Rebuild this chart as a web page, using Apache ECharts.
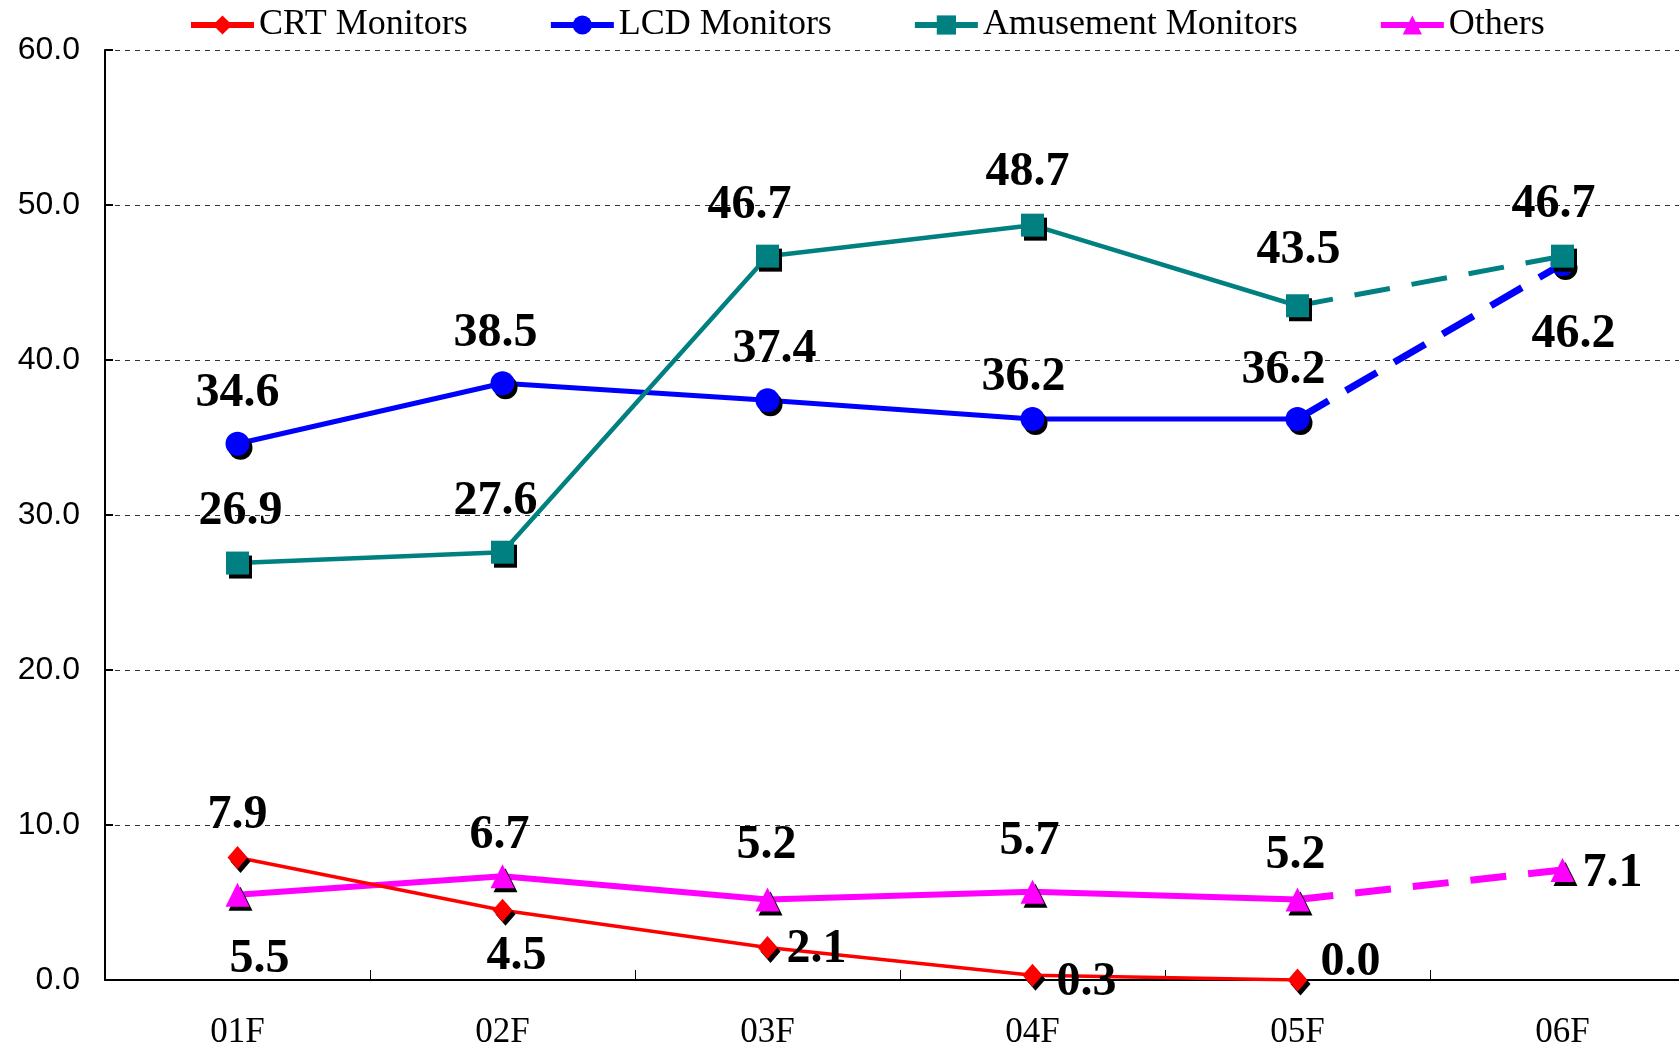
<!DOCTYPE html>
<html>
<head>
<meta charset="utf-8">
<title>Monitor shares by fiscal year</title>
<script src="https://cdn.jsdelivr.net/npm/echarts@6/dist/echarts.min.js"></script>
<style>
  html, body { margin: 0; padding: 0; background: #fff; }
  #chart { width: 1679px; height: 1044px; }
</style>
</head>
<body>
<div id="chart"></div>
<script>
// Fiscal years on the category axis
const categories = ['01F', '02F', '03F', '04F', '05F', '06F'];

// Series values (06F is a forecast, drawn with a dashed segment)
const crtValues = [7.9, 4.5, 2.1, 0.3, 0.0, null];
const lcdValues = [34.6, 38.5, 37.4, 36.2, 36.2, 46.2];
const amusementValues = [26.9, 27.6, 46.7, 48.7, 43.5, 46.7];
const otherValues = [5.5, 6.7, 5.2, 5.7, 5.2, 7.1];

// Value axis range
const yMin = 0, yMax = 60, yStep = 10;

// Index of the last actual year; the segment after it is a forecast
const lastActual = 4;

// Where each value label sits relative to its marker [dx, dy]
const crtLabelPos = [[0, -42], [14, 46], [49, 2], [54, 7], [53, -17], [0, 0]];
const lcdLabelPos = [[0, -50], [-7, -50], [7, -51], [-9, -41], [-14, -48], [11, 71]];
const amusementLabelPos = [[3, -51], [-7, -51], [-18, -51], [-5, -53], [1, -55], [-9, -52]];
const otherLabelPos = [[22, 65], [-3, -41], [-1, -54], [-3, -50], [-2, -44], [50, 4]];

const serif = '"Liberation Serif", "Times New Roman", serif';
const sans = '"Liberation Sans", Arial, sans-serif';

const markerShadow = {
  shadowColor: '#000',
  shadowBlur: 0,
  shadowOffsetX: 3,
  shadowOffsetY: 4
};

const labelBase = {
  show: true,
  position: 'inside',
  fontFamily: serif,
  fontWeight: 'bold',
  fontSize: 48,
  color: '#000'
};

function fmt(v) { return v.toFixed(1); }

// Solid part: actual years, with markers and labels
function solidData(values, pos) {
  return values.map((v, i) => {
    if (i > lastActual || v === null) return null;
    return { value: v, label: { offset: pos[i], formatter: fmt(v) } };
  });
}

// Dashed part: last actual year to the forecast year; marker and label on the forecast only
function dashedData(values, pos) {
  return values.map((v, i) => {
    if (i < lastActual || v === null) return null;
    if (i === lastActual) return { value: v, symbol: 'none', label: { show: false } };
    return { value: v, label: { offset: pos[i], formatter: fmt(v) } };
  });
}

function makeSeries(name, values, pos, color, symbol, symbolSize, width, dashWidth, dash, z) {
  const common = {
    name: name,
    type: 'line',
    symbol: symbol,
    symbolSize: symbolSize,
    itemStyle: Object.assign({ color: color }, markerShadow),
    label: Object.assign({}, labelBase),
    emphasis: { disabled: true },
    animation: false,
    z: z
  };
  const list = [Object.assign({}, common, {
    data: solidData(values, pos),
    lineStyle: { color: color, width: width, type: 'solid' },
    connectNulls: false
  })];
  if (values[lastActual + 1] !== null && values[lastActual + 1] !== undefined) {
    list.push(Object.assign({}, common, {
      data: dashedData(values, pos),
      lineStyle: { color: color, width: dashWidth, type: dash },
      connectNulls: false
    }));
  }
  return list;
}

const series = [].concat(
  makeSeries('CRT Monitors', crtValues, crtLabelPos, '#ff0000', 'diamond', [20, 23], 3.5, 4, [36, 22], 5),
  makeSeries('LCD Monitors', lcdValues, lcdLabelPos, '#0000ff', 'circle', 24, 5, 7, [36, 20], 3),
  makeSeries('Amusement Monitors', amusementValues, amusementLabelPos, '#008080', 'rect', 23, 4.5, 5, [36, 22], 4),
  makeSeries('Others', otherValues, otherLabelPos, '#ff00ff', 'triangle', 24, 6, 7, [36, 22], 2)
);

const chart = echarts.init(document.getElementById('chart'), null, { renderer: 'canvas' });

chart.setOption({
  backgroundColor: '#fff',
  animation: false,
  legend: {
    data: ['CRT Monitors', 'LCD Monitors', 'Amusement Monitors', 'Others'],
    left: 188,
    top: 7,
    padding: 0,
    itemWidth: 63,
    itemHeight: 24,
    itemGap: 80,
    lineStyle: { width: 6 },
    itemStyle: { shadowBlur: 0, shadowOffsetX: 0, shadowOffsetY: 0, shadowColor: 'rgba(0,0,0,0)' },
    textStyle: { fontFamily: serif, fontSize: 36, color: '#000' },
    selectedMode: false
  },
  grid: {
    left: 105,
    top: 50,
    width: 1590,
    bottom: 64,
    containLabel: false,
    outerBoundsMode: 'none'
  },
  xAxis: {
    type: 'category',
    data: categories,
    boundaryGap: true,
    axisLine: { show: true, lineStyle: { color: '#000', width: 2 } },
    axisTick: { show: true, inside: true, length: 10, interval: 0, lineStyle: { color: '#000', width: 1 } },
    axisLabel: { fontFamily: serif, fontSize: 35, color: '#000', margin: 35, interval: 0 },
    splitLine: { show: false }
  },
  yAxis: {
    type: 'value',
    min: yMin,
    max: yMax,
    interval: yStep,
    axisLine: { show: true, lineStyle: { color: '#000', width: 2 } },
    axisTick: { show: true, inside: true, length: 8, lineStyle: { color: '#000', width: 2 } },
    axisLabel: {
      fontFamily: sans,
      fontSize: 32,
      color: '#000',
      margin: 25,
      formatter: v => v.toFixed(1)
    },
    splitLine: { show: true, lineStyle: { color: '#333', width: 1, type: [5, 5] } }
  },
  series: series
});
</script>
</body>
</html>
